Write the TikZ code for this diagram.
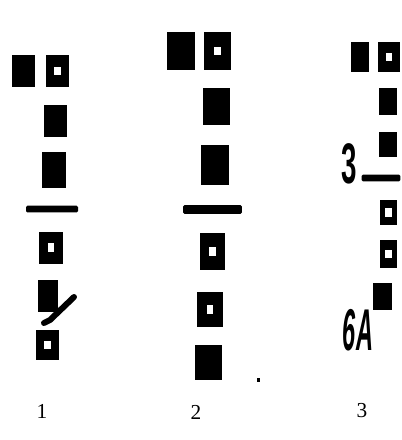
\documentclass[tikz,border=0pt]{standalone}
\usepackage{fontspec}
\setmainfont{Liberation Serif}
\newfontfamily\handfont{Liberation Sans}
\usepackage{tikz}
\usetikzlibrary{positioning}
\tikzset{
  markfull/.style={fill=black, inner sep=0pt},
  markhollow/.style={fill=black, inner sep=0pt,
    path picture={\fill[white] (path picture bounding box.center) ++(-2.4pt,-3.2pt) rectangle ++(4.8pt,6.4pt);}},
  sizeA/.style={minimum width=17.5pt, minimum height=24pt},
  sizeB/.style={minimum width=20.5pt, minimum height=28pt},
  sizeC/.style={minimum width=14pt, minimum height=20pt},
  bar/.style={fill=black, inner sep=0pt, rounded corners=1pt},
  panellabel/.style={font=\fontsize{16}{19}\selectfont, inner sep=0pt},
  handnote/.style={font=\handfont\bfseries\fontsize{26}{28}\selectfont, inner sep=0pt},
}

\begin{document}
\begin{tikzpicture}[x=0.75pt, y=-0.75pt]
      \useasboundingbox (0,0) rectangle (401,440);

      % panel 1
      \node[markfull, sizeA] (a1) at (23.5,71) {};
      \node[markhollow, sizeA] (a2) at (57.5,71) {};
      \node[markfull, sizeA] (a3) at (55.5,121) {};
      \node[markfull, sizeA, minimum height=27pt] (a4) at (54,170) {};
      \node[bar, minimum width=39pt, minimum height=5pt] (abar) at (52,209) {};
      \node[markhollow, sizeA] (a5) at (51,247.5) {};
      \node[markfull, sizeA, minimum width=15pt] (a6) at (48,296) {};
      \node[markhollow, sizeA, minimum height=22pt] (a7) at (47.5,345) {};
      \draw[line width=4.5pt, line cap=round] (74,297) -- (50,320) -- (44,323);

      % panel 2
      \node[markfull, sizeB] (b1) at (181,51) {};
      \node[markhollow, sizeB] (b2) at (217.5,51) {};
      \node[markfull, sizeB] (b3) at (216.5,106.5) {};
      \node[markfull, sizeB, minimum height=30pt] (b4) at (215,165) {};
      \node[bar, minimum width=44pt, minimum height=6.5pt] (bbar) at (212.5,209.5) {};
      \node[markhollow, sizeB, minimum width=19pt] (b5) at (212.5,251.5) {};
      \node[markhollow, sizeB, minimum width=19pt, minimum height=26pt] (b6) at (210,309.5) {};
      \node[markfull, sizeB, minimum height=26pt] (b7) at (208.5,362.5) {};
      \node[fill=black, inner sep=0pt, minimum width=2.2pt, minimum height=3pt] (bdot) at (258.5,380) {};

      % panel 3
      \node[markfull, sizeC, minimum height=22pt] (c1) at (360,57) {};
      \node[markhollow, sizeC, minimum width=16pt, minimum height=22pt] (c2) at (389,57) {};
      \node[markfull, sizeC] (c3) at (388,101.5) {};
      \node[markfull, sizeC, minimum height=19pt] (c4) at (388,144.5) {};
      \node[bar, minimum width=29pt, minimum height=5pt] (cbar) at (381,178) {};
      \node[markhollow, sizeC, minimum width=13pt, minimum height=19pt] (c5) at (388.5,212.5) {};
      \node[markhollow, sizeC, minimum width=13pt, minimum height=21pt] (c6) at (388.5,254) {};
      \node[markfull, sizeC] (c7) at (382.5,296.5) {};
      \node[handnote, xscale=0.8, yscale=1.65] (cthree) at (349.5,164) {3};
      \node[handnote, font=\handfont\bfseries\itshape\fontsize{26}{28}\selectfont, xscale=0.68, yscale=1.7] (csix) at (358,330) {6A};

      \node[panellabel] (n1) at (42,411) {1};
      \node[panellabel] (n2) at (196,412) {2};
      \node[panellabel] (n3) at (362,411) {3};
\end{tikzpicture}
\end{document}
